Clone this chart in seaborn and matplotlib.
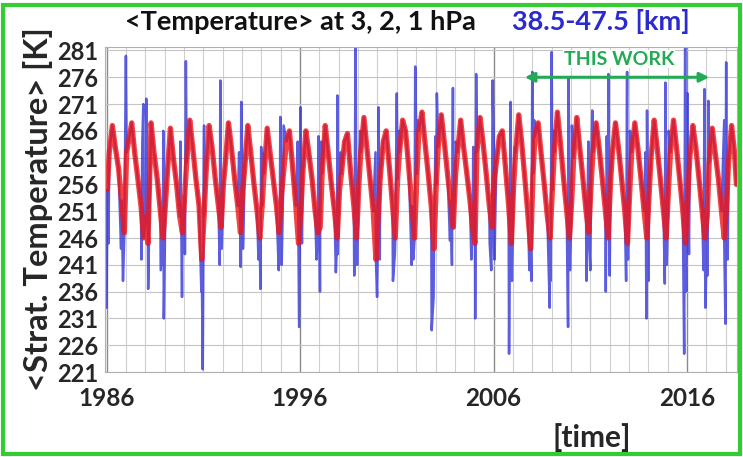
import numpy as np
import pandas as pd
import seaborn as sns
import matplotlib
matplotlib.use("Agg")
import matplotlib.pyplot as plt
from matplotlib.patches import Rectangle

# ---------------- data ----------------
years = list(range(1986, 2019))
red_phase = [0.04, 0.14, 0.30, 0.45, 0.62, 0.78, 0.92]
red_rows = [
    [255, 262, 267.0, 263, 259, 253, 247],   # 1986
    [262, 264, 267.5, 262, 257, 252, 246],   # 1987
    [250, 245, 267.5, 262, 257, 251, 246],   # 1988
    [252, 258, 266.5, 261, 256, 250, 247],   # 1989
    [254, 260, 268.0, 263, 257, 252, 242],   # 1990
    [250, 258, 267.0, 263, 257, 252, 248],   # 1991
    [256, 260, 267.5, 263, 257, 252, 247],   # 1992
    [255, 259, 267.0, 262, 256, 251, 246],   # 1993
    [252, 258, 266.5, 262, 257, 252, 247],   # 1994
    [254, 258, 264.0, 266, 259, 252, 245],   # 1995
    [251, 258, 266.0, 262, 257, 251, 247],   # 1996
    [248, 258, 267.0, 262, 256, 251, 246],   # 1997
    [255, 258, 264.0, 265.5, 258, 252, 246], # 1998
    [256, 262, 268.5, 263, 257, 251, 242],   # 1999
    [250, 257, 264.0, 266, 259, 252, 246],   # 2000
    [257, 262, 268.0, 266, 259, 252, 246],   # 2001
    [258, 266, 269.5, 264, 258, 252, 244],   # 2002
    [256, 263, 269.0, 264, 258, 253, 248],   # 2003
    [258, 262, 268.0, 263, 258, 253, 248],   # 2004
    [245, 262, 268.5, 264, 258, 252, 248],   # 2005
    [257, 260, 265.0, 266, 259, 252, 245],   # 2006
    [256, 262, 269.0, 264, 257, 250, 244],   # 2007
    [258, 265, 267.5, 262, 256, 250, 246],   # 2008
    [255, 262, 269.5, 264, 257, 251, 246],   # 2009
    [253, 261, 268.5, 263, 257, 251, 247],   # 2010
    [256, 262, 267.5, 263, 257, 251, 246],   # 2011
    [256, 262, 267.5, 263, 257, 251, 245],   # 2012
    [255, 262, 267.5, 263, 257, 251, 246],   # 2013
    [254, 261, 268.0, 263, 257, 251, 246],   # 2014
    [255, 262, 268.0, 263, 257, 251, 245],   # 2015
    [254, 261, 267.0, 263, 257, 251, 246],   # 2016
    [250, 260, 266.5, 262, 257, 251, 246],   # 2017
    [252, 260, 267.0, 262, 256],             # 2018 (series ends mid-year)
]
red_phase_last = [0.04, 0.14, 0.30, 0.45, 0.55]

# strong winter spikes of the blue series (time, temperature)
spike_t = [1986.00, 1986.85, 1987.00, 1987.90, 1988.05, 1988.15, 1988.93, 1988.96,
           1989.90, 1990.10, 1990.97, 1991.04, 1991.85, 1991.88, 1992.93, 1992.96,
           1993.95, 1993.99, 1994.90, 1994.98, 1995.15, 1995.95, 1996.03, 1996.95,
           1997.03, 1997.85, 1997.93, 1998.80, 1998.87, 1999.98, 2000.05, 2000.80,
           2001.00, 2001.77, 2001.95, 2002.80, 2003.07, 2003.75, 2003.90, 2005.05,
           2005.10, 2005.80, 2005.95, 2006.80, 2006.88, 2007.95, 2008.00, 2008.90,
           2009.00, 2009.85, 2009.88, 2010.80, 2011.10, 2011.80, 2011.93, 2012.85,
           2012.90, 2013.90, 2013.93, 2014.85, 2014.88, 2015.85, 2015.90, 2016.02,
           2016.90, 2016.95, 2017.10, 2017.98, 2018.02]
spike_v = [233.0, 238.0, 280.0, 271.0, 272.0, 236.5, 266.0, 231.0,
           235.0, 279.0, 221.5, 267.0, 241.0, 275.4, 240.6, 271.4,
           236.5, 263.0, 240.0, 268.6, 267.0, 229.4, 270.4, 265.0,
           236.0, 239.6, 272.6, 239.0, 282.0, 235.0, 270.4, 238.0,
           273.0, 241.0, 278.0, 228.8, 273.0, 245.5, 274.0, 231.0,
           276.6, 245.0, 275.4, 224.4, 271.4, 238.0, 277.0, 233.0,
           280.7, 229.4, 276.0, 238.0, 269.8, 236.0, 276.6, 238.0,
           277.0, 231.0, 269.8, 237.5, 275.0, 224.4, 281.6, 273.0,
           273.8, 233.0, 271.6, 230.0, 278.8]

# weaker winter excursions of the blue series (time, temperature)
minor_t = [1986.10, 1986.75, 1987.80, 1987.85, 1988.80, 1989.82, 1990.05, 1990.90,
           1991.95, 1992.85, 1993.05, 1993.85, 1994.05, 1994.95, 1995.05, 1995.88,
           1996.10, 1996.85, 1997.10, 1997.95, 1998.10, 1998.95, 1999.10, 1999.90,
           2000.12, 2000.90, 2001.10, 2001.85, 2002.05, 2002.90, 2003.00, 2003.85,
           2004.05, 2004.85, 2004.95, 2005.88, 2006.05, 2006.95, 2007.10, 2007.85,
           2008.10, 2008.95, 2009.10, 2009.95, 2010.05, 2010.90, 2011.00, 2011.85,
           2012.00, 2012.95, 2013.05, 2013.85, 2014.00, 2014.95, 2015.05, 2015.95,
           2016.10, 2016.85, 2017.05, 2017.92, 2018.10]
minor_v = [245, 244, 242, 264, 240, 264, 243, 236,
           244, 262, 244, 242, 262, 244, 241, 264,
           245, 242, 264, 243, 262, 241, 266, 262,
           242, 243, 266, 242, 268, 235, 265, 241,
           264, 242, 263, 240, 242, 238, 263, 240,
           268, 238, 266, 240, 267, 264, 240, 265,
           239, 242, 266, 262, 238, 241, 266, 236,
           243, 240, 239, 268, 242]

yticks = list(range(221, 282, 5))
xticks = [1986, 1996, 2006, 2016]

# ---------------- build tables ----------------
red_t, red_v = [], []
for y, row in zip(years, red_rows):
    ph = red_phase if len(row) == len(red_phase) else red_phase_last
    for p, v in zip(ph, row):
        red_t.append(y + p)
        red_v.append(v)
red_df = pd.DataFrame({"time": red_t, "T": red_v})
blue_df = pd.concat([red_df,
                     pd.DataFrame({"time": spike_t, "T": spike_v}),
                     pd.DataFrame({"time": minor_t, "T": minor_v})]).sort_values("time")

# ---------------- figure ----------------
sns.set_theme(style="white")
plt.rcParams["font.family"] = ["Lato", "DejaVu Sans"]

fig = plt.figure(figsize=(7.43, 4.57), dpi=100)
ax = fig.add_axes([105 / 743, 85 / 457, 632 / 743, 325 / 457])

sns.lineplot(data=blue_df, x="time", y="T", estimator=None, sort=False,
             color="#3535d8", lw=1.8, alpha=0.8, ax=ax)
sns.lineplot(data=red_df, x="time", y="T", estimator=None, sort=False,
             color="#f01414", lw=3.8, alpha=0.8, ax=ax)

ax.set_xlim(1985.92, 2018.58)
ax.set_ylim(221, 281.65)
ax.set_yticks(yticks)
ax.set_xticks(xticks)
ax.set_xticks(range(1986, 2019), minor=True)
ax.grid(which="minor", axis="x", color="#cfcfcf", lw=0.8)
ax.grid(which="major", axis="x", color="#8a8a8a", lw=1.0)
ax.grid(which="major", axis="y", color="#c4c4c4", lw=0.8)
ax.set_axisbelow(True)
ax.tick_params(axis="both", which="both", length=0)
ax.tick_params(axis="y", pad=5, labelsize=17)
ax.tick_params(axis="x", pad=11, labelsize=17.5)
for lab in ax.get_xticklabels() + ax.get_yticklabels():
    lab.set_fontweight("bold")
for s in ax.spines.values():
    s.set_color("#b0b0b0")
    s.set_linewidth(0.8)

ax.set_xlabel("")
ax.set_ylabel("<Strat. Temperature> [K]", fontsize=23.5, fontweight="bold", labelpad=3)

fig.text(125 / 743, 1 - 22 / 457, "<Temperature> at 3, 2, 1 hPa", fontsize=19.5,
         fontweight="bold", color="#111111", ha="left", va="center")
fig.text(512 / 743, 1 - 22 / 457, "38.5-47.5 [km]", fontsize=19.5, fontweight="bold",
         color="#2a2ad0", ha="left", va="center")
fig.text(592 / 743, 1 - 438 / 457, "[time]", fontsize=21.5, fontweight="bold",
         ha="center", va="center")

ax.annotate("", xy=(2007.47, 276), xytext=(2017.29, 276),
            arrowprops=dict(arrowstyle="<|-|>", color="#22aa55", lw=2.2,
                            mutation_scale=14))
ax.text(2012.5, 279.4, "THIS WORK", color="#22aa55", fontsize=14,
        fontweight="bold", ha="center", va="center",
        bbox=dict(facecolor="white", edgecolor="none", pad=0.5))

fig.patches.append(Rectangle((0.004, 0.006), 0.992, 0.984, transform=fig.transFigure,
                             fill=False, edgecolor="#33cc33", lw=3))

fig.savefig("out.png", dpi=100)
